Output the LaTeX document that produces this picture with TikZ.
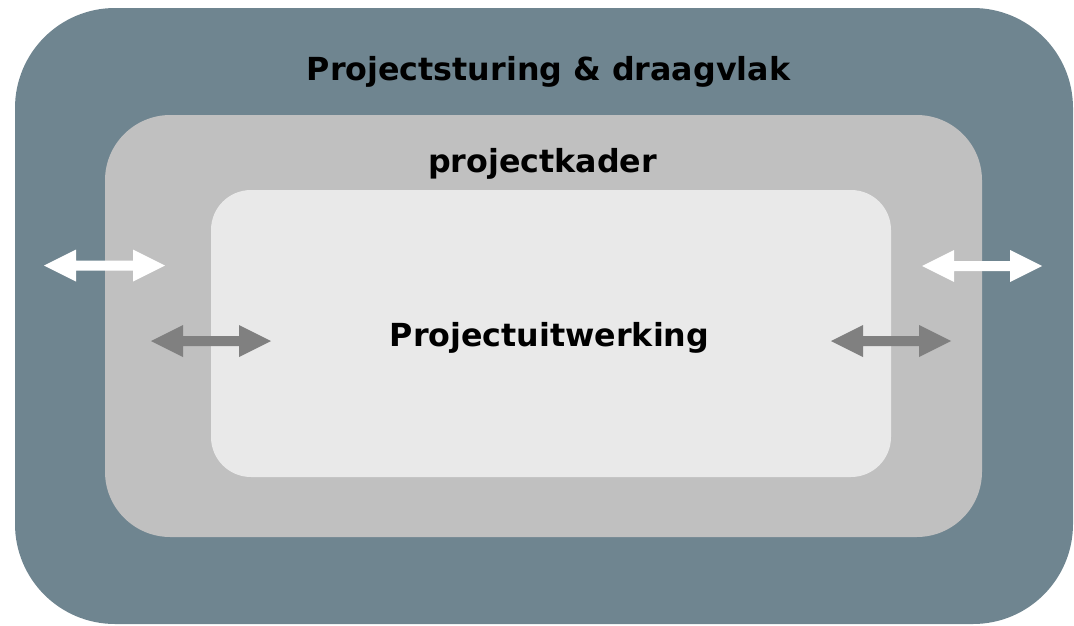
\documentclass[tikz,border=0pt]{standalone}
\usepackage{fontspec}
\setmainfont{DejaVu Sans}
\definecolor{outerc}{HTML}{6F8590}
\definecolor{midc}{HTML}{C0C0C0}
\definecolor{innerc}{HTML}{E9E9E9}
\definecolor{arrowgray}{HTML}{808080}
\newcommand{\blockdblarrow}[4]{%
  \fill[#4] (#1,#3) -- ++(32,-16) -- ++(0,11) -- (#2-32,#3-5) -- ++(0,-11) -- (#2,#3)
    -- ++(-32,16) -- ++(0,-11) -- (#1+32,#3+5) -- ++(0,11) -- cycle;}
\begin{document}
\begin{tikzpicture}[x=0.75pt,y=-0.75pt,
  boxstyle/.style={rectangle,inner sep=0pt,outer sep=0pt,draw=none},
  label/.style={font=\bfseries\fontsize{23.8}{28}\selectfont,anchor=base,inner sep=0pt,text=black}]
\useasboundingbox (0,0) rectangle (1074,625);
\node[boxstyle,fill=outerc,rounded corners=75pt,minimum width=1058*0.75pt,minimum height=616*0.75pt] (outer) at (544,316) {};
\node[boxstyle,fill=midc,rounded corners=49pt,minimum width=877*0.75pt,minimum height=422*0.75pt] (mid) at (543.5,326) {};
\node[boxstyle,fill=innerc,rounded corners=30pt,minimum width=680*0.75pt,minimum height=287*0.75pt] (inner) at (551,333.5) {};
\node[label] (t1) at (548.5,80) {Projectsturing \& draagvlak};
\node[label] (t2) at (542.5,172) {projectkader};
\node[label] (t3) at (549.5,346) {Projectuitwerking};
\blockdblarrow{44}{165}{265.5}{white}
\blockdblarrow{922}{1042}{266}{white}
\blockdblarrow{151}{271}{341}{arrowgray}
\blockdblarrow{831}{951}{341}{arrowgray}
\end{tikzpicture}
\end{document}
